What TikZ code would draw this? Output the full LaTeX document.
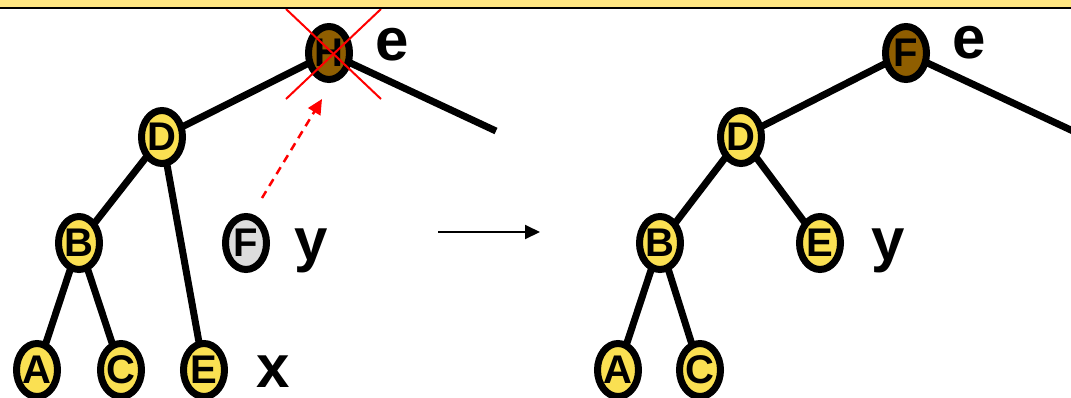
\documentclass[tikz,border=0pt]{standalone}
\usepackage{fontspec}
\setmainfont{Liberation Sans}
\usepackage{xcolor}
\usetikzlibrary{arrows.meta, positioning, shapes.geometric, backgrounds}
\definecolor{node-yellow}{RGB}{250, 224, 82}
\definecolor{node-brown}{RGB}{143, 94, 0}
\definecolor{node-grey}{RGB}{220, 220, 220}
\definecolor{band-yellow}{RGB}{255, 230, 130}

\begin{document}
\begin{tikzpicture}[x=1pt, y=-1pt,
    vtx/.style={ellipse, draw=black, line width=7pt, fill=node-yellow,
                minimum width=41pt, minimum height=53pt, inner sep=0pt,
                font=\fontsize{40}{40}\selectfont\bfseries},
    lbl/.style={anchor=base west, inner sep=0pt,
                font=\fontsize{60}{60}\selectfont\bfseries},
    br/.style={line width=7pt},
    arr/.style={-{Triangle[length=15pt, width=14pt]}, line width=2pt},
    cross/.style={red, line width=2pt}
  ]
  \useasboundingbox (0,0) rectangle (1071,397);
  % before: H is removed, F moves up
  \node[vtx, fill=node-brown] (h) at (329,53) {H};
  \node[vtx] (d) at (162,137) {D};
  \node[vtx] (b) at (79,243) {B};
  \node[vtx] (a) at (37,370) {A};
  \node[vtx] (c) at (121,370) {C};
  \node[vtx] (e) at (204,370) {E};
  \node[vtx, fill=node-grey] (f) at (246,243) {F};
  \coordinate (hr) at (496,131);
  \node[lbl] (he) at (375,60) {e};
  \node[lbl] (fy) at (294,260) {y};
  \node[lbl] (ex) at (256,387) {x};
  \begin{scope}[on background layer]
    \draw[br] (h.center) -- (d.center);
    \draw[br] (h.center) -- (hr);
    \draw[br] (d.center) -- (b.center);
    \draw[br] (d.center) -- (e.center);
    \draw[br] (b.center) -- (a.center);
    \draw[br] (b.center) -- (c.center);
  \end{scope}
  \coordinate (x1) at (286,9);
  \coordinate (x2) at (381,99);
  \coordinate (x3) at (381,9);
  \coordinate (x4) at (286,99);
  \draw[cross] (x1) -- (x2);
  \draw[cross] (x3) -- (x4);
  \coordinate (mv0) at (262,198);
  \coordinate (mv1) at (322,99);
  \draw[arr, red, line width=2.5pt, dash pattern=on 8pt off 6pt] (mv0) -- (mv1);

  % step arrow
  \coordinate (s0) at (438,232);
  \coordinate (s1) at (540,232);
  \draw[arr] (s0) -- (s1);

  % after
  \node[vtx, fill=node-brown] (f2) at (906,53) {F};
  \node[vtx] (d2) at (741,137) {D};
  \node[vtx] (b2) at (660,243) {B};
  \node[vtx] (e2) at (820,243) {E};
  \node[vtx] (a2) at (618,370) {A};
  \node[vtx] (c2) at (700,370) {C};
  \coordinate (fr) at (1073,131);
  \node[lbl] (fe) at (952,58) {e};
  \node[lbl] (ey) at (871,260) {y};
  \begin{scope}[on background layer]
    \draw[br] (f2.center) -- (d2.center);
    \draw[br] (f2.center) -- (fr);
    \draw[br] (d2.center) -- (b2.center);
    \draw[br] (d2.center) -- (e2.center);
    \draw[br] (b2.center) -- (a2.center);
    \draw[br] (b2.center) -- (c2.center);
  \end{scope}

  % top band
  \fill[band-yellow] (0,0) rectangle (1071,7);
  \draw[line width=2pt] (0,8) -- (1071,8);
\end{tikzpicture}
\end{document}
